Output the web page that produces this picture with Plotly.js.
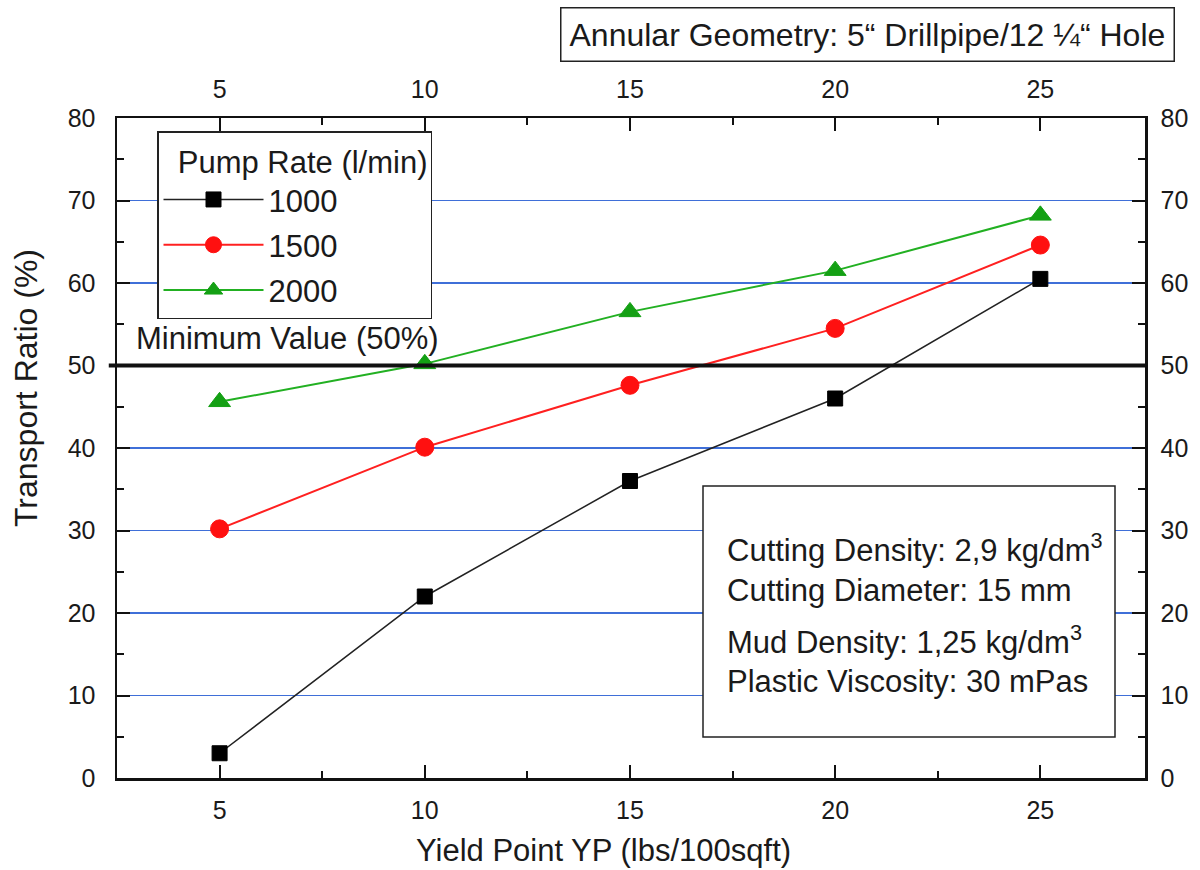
<!DOCTYPE html>
<html>
<head>
<meta charset="utf-8">
<script src="https://cdn.plot.ly/plotly-3.0.1.min.js"></script>
<style>html,body{margin:0;padding:0;background:#fff;}#chart{width:1200px;height:870px;}</style>
</head>
<body>
<div id="chart"></div>
<script>
const yieldPoint = [5, 10, 15, 20, 25];
const ratio1000 = [3, 22, 36, 46, 60.5];
const ratio1500 = [30.2, 40.1, 47.6, 54.5, 64.6];
const ratio2000 = [45.6, 50.2, 56.5, 61.5, 68.2];
const pumpRates = ['1000', '1500', '2000'];
const minimumValue = 50;
const xTicks = [5, 10, 15, 20, 25];
const yTicks = [0, 10, 20, 30, 40, 50, 60, 70, 80];
const infoLines = [
  'Cutting Density: 2,9 kg/dm<sup>3</sup>',
  'Cutting Diameter: 15 mm',
  'Mud Density: 1,25 kg/dm<sup>3</sup>',
  'Plastic Viscosity: 30 mPas'
];

const FONT = '"Liberation Sans", Arial, sans-serif';
const TXT = '#1a1a1a';
const xRange = [2.5, 27.55];
const yRange = [0, 80];

const traces = [
  {x: yieldPoint, y: ratio1000, name: pumpRates[0], legendgroup: 'a', mode: 'lines+markers',
   line: {color: '#222', width: 1.5},
   marker: {symbol: 'square', size: 15, color: '#000', line: {color: '#000', width: 1}}},
  {x: yieldPoint, y: ratio1500, name: pumpRates[1], legendgroup: 'b', mode: 'lines+markers',
   line: {color: '#ff2020', width: 2},
   marker: {symbol: 'circle', size: 18, color: '#ff1010', line: {color: '#ff1010', width: 1}}},
  {x: yieldPoint, y: ratio2000, name: pumpRates[2], legendgroup: 'c', mode: 'lines+markers',
   line: {color: '#22b022', width: 2},
   marker: {symbol: 'triangle-up', size: 19, color: '#14a014', line: {color: '#14a014', width: 1}}},
  {x: [xRange[0]], y: [yRange[0]], xaxis: 'x2', yaxis: 'y2', mode: 'markers',
   marker: {opacity: 0}, showlegend: false, hoverinfo: 'skip'}
];

const axisCommon = {
  showline: true, linecolor: '#111', linewidth: 2.5,
  ticks: 'inside', ticklen: 13, tickwidth: 2, tickcolor: '#111',
  tickfont: {family: FONT, size: 25, color: TXT},
  zeroline: false
};
const minorX = {ticks: 'inside', ticklen: 7, tickwidth: 2, tickcolor: '#111', tickvals: [7.5, 12.5, 17.5, 22.5]};
const minorY = {ticks: 'inside', ticklen: 7, tickwidth: 2, tickcolor: '#111', tickvals: [5, 15, 25, 35, 45, 55, 65, 75], showgrid: false};

const annotations = [
  {xref: 'paper', yref: 'paper', x: 0.730, y: 1.126, xanchor: 'center', yanchor: 'middle',
   text: 'Annular Geometry: 5“ Drillpipe/12 ¼“ Hole', showarrow: false,
   font: {family: FONT, size: 32, color: TXT},
   bordercolor: '#222', borderwidth: 1.5, borderpad: 8, bgcolor: '#fff'},
  {xref: 'paper', yref: 'y', x: 0.017, y: minimumValue + 3.3, xanchor: 'left', yanchor: 'middle',
   text: 'Minimum Value (50%)', showarrow: false,
   font: {family: FONT, size: 31, color: TXT}},
  {xref: 'paper', yref: 'paper', x: (26 - 117) / 1028, y: (778 - 388) / 660, xanchor: 'center', yanchor: 'middle',
   text: 'Transport Ratio (%)', textangle: -90, showarrow: false,
   font: {family: FONT, size: 32, color: TXT}},
  {xref: 'paper', yref: 'paper', x: (603 - 117) / 1028, y: (778 - 850) / 660, xanchor: 'center', yanchor: 'middle',
   text: 'Yield Point YP (lbs/100sqft)', showarrow: false,
   font: {family: FONT, size: 31, color: TXT}}
];
const infoY = [548, 590, 640, 681];
infoLines.forEach((t, i) => {
  annotations.push({xref: 'paper', yref: 'paper', x: (725 - 117) / 1028, y: (778 - infoY[i]) / 660,
    xanchor: 'left', yanchor: 'middle', text: t, showarrow: false,
    font: {family: FONT, size: 31, color: TXT}});
});

const layout = {
  width: 1200, height: 870,
  margin: {l: 117, r: 55, t: 118, b: 92},
  paper_bgcolor: '#fff', plot_bgcolor: '#fff',
  font: {family: FONT, color: TXT},
  showlegend: true,
  legend: {
    x: (157 - 117) / 1028, y: 1 - (131 - 118) / 660, xanchor: 'left', yanchor: 'top',
    bordercolor: '#222', borderwidth: 1.5, bgcolor: '#fff',
    font: {family: FONT, size: 31, color: TXT},
    title: {text: '\u00a0\u00a0Pump Rate (l/min)', side: 'top', font: {family: FONT, size: 31, color: TXT}},
    tracegroupgap: 2, itemwidth: 100
  },
  xaxis: Object.assign({}, axisCommon, {
    range: xRange, tickvals: xTicks, ticklabelstandoff: 8, minor: minorX, showgrid: false
  }),
  xaxis2: Object.assign({}, axisCommon, {
    range: xRange, tickvals: xTicks, overlaying: 'x', side: 'top', anchor: 'y2', ticklabelstandoff: 8,
    minor: minorX, showgrid: false
  }),
  yaxis: Object.assign({}, axisCommon, {
    range: yRange, tickvals: yTicks, ticklabelstandoff: 14, minor: minorY,
    showgrid: true, gridcolor: '#3f6fd8', gridwidth: 1.5
  }),
  yaxis2: Object.assign({}, axisCommon, {
    range: yRange, tickvals: yTicks, overlaying: 'y', side: 'right', anchor: 'x2', ticklabelstandoff: 8,
    minor: minorY, showgrid: false
  }),
  shapes: [
    {type: 'line', xref: 'paper', yref: 'y', x0: -0.008, x1: 1, y0: minimumValue, y1: minimumValue,
     line: {color: '#111', width: 4}},
    {type: 'rect', xref: 'paper', yref: 'paper',
     x0: (703 - 117) / 1028, x1: (1115 - 117) / 1028, y0: (778 - 737) / 660, y1: (778 - 486) / 660,
     fillcolor: '#fff', line: {color: '#222', width: 1.5}, layer: 'above'}
  ],
  annotations: annotations
};

Plotly.newPlot('chart', traces, layout, {displayModeBar: false, staticPlot: true});
</script>
</body>
</html>
